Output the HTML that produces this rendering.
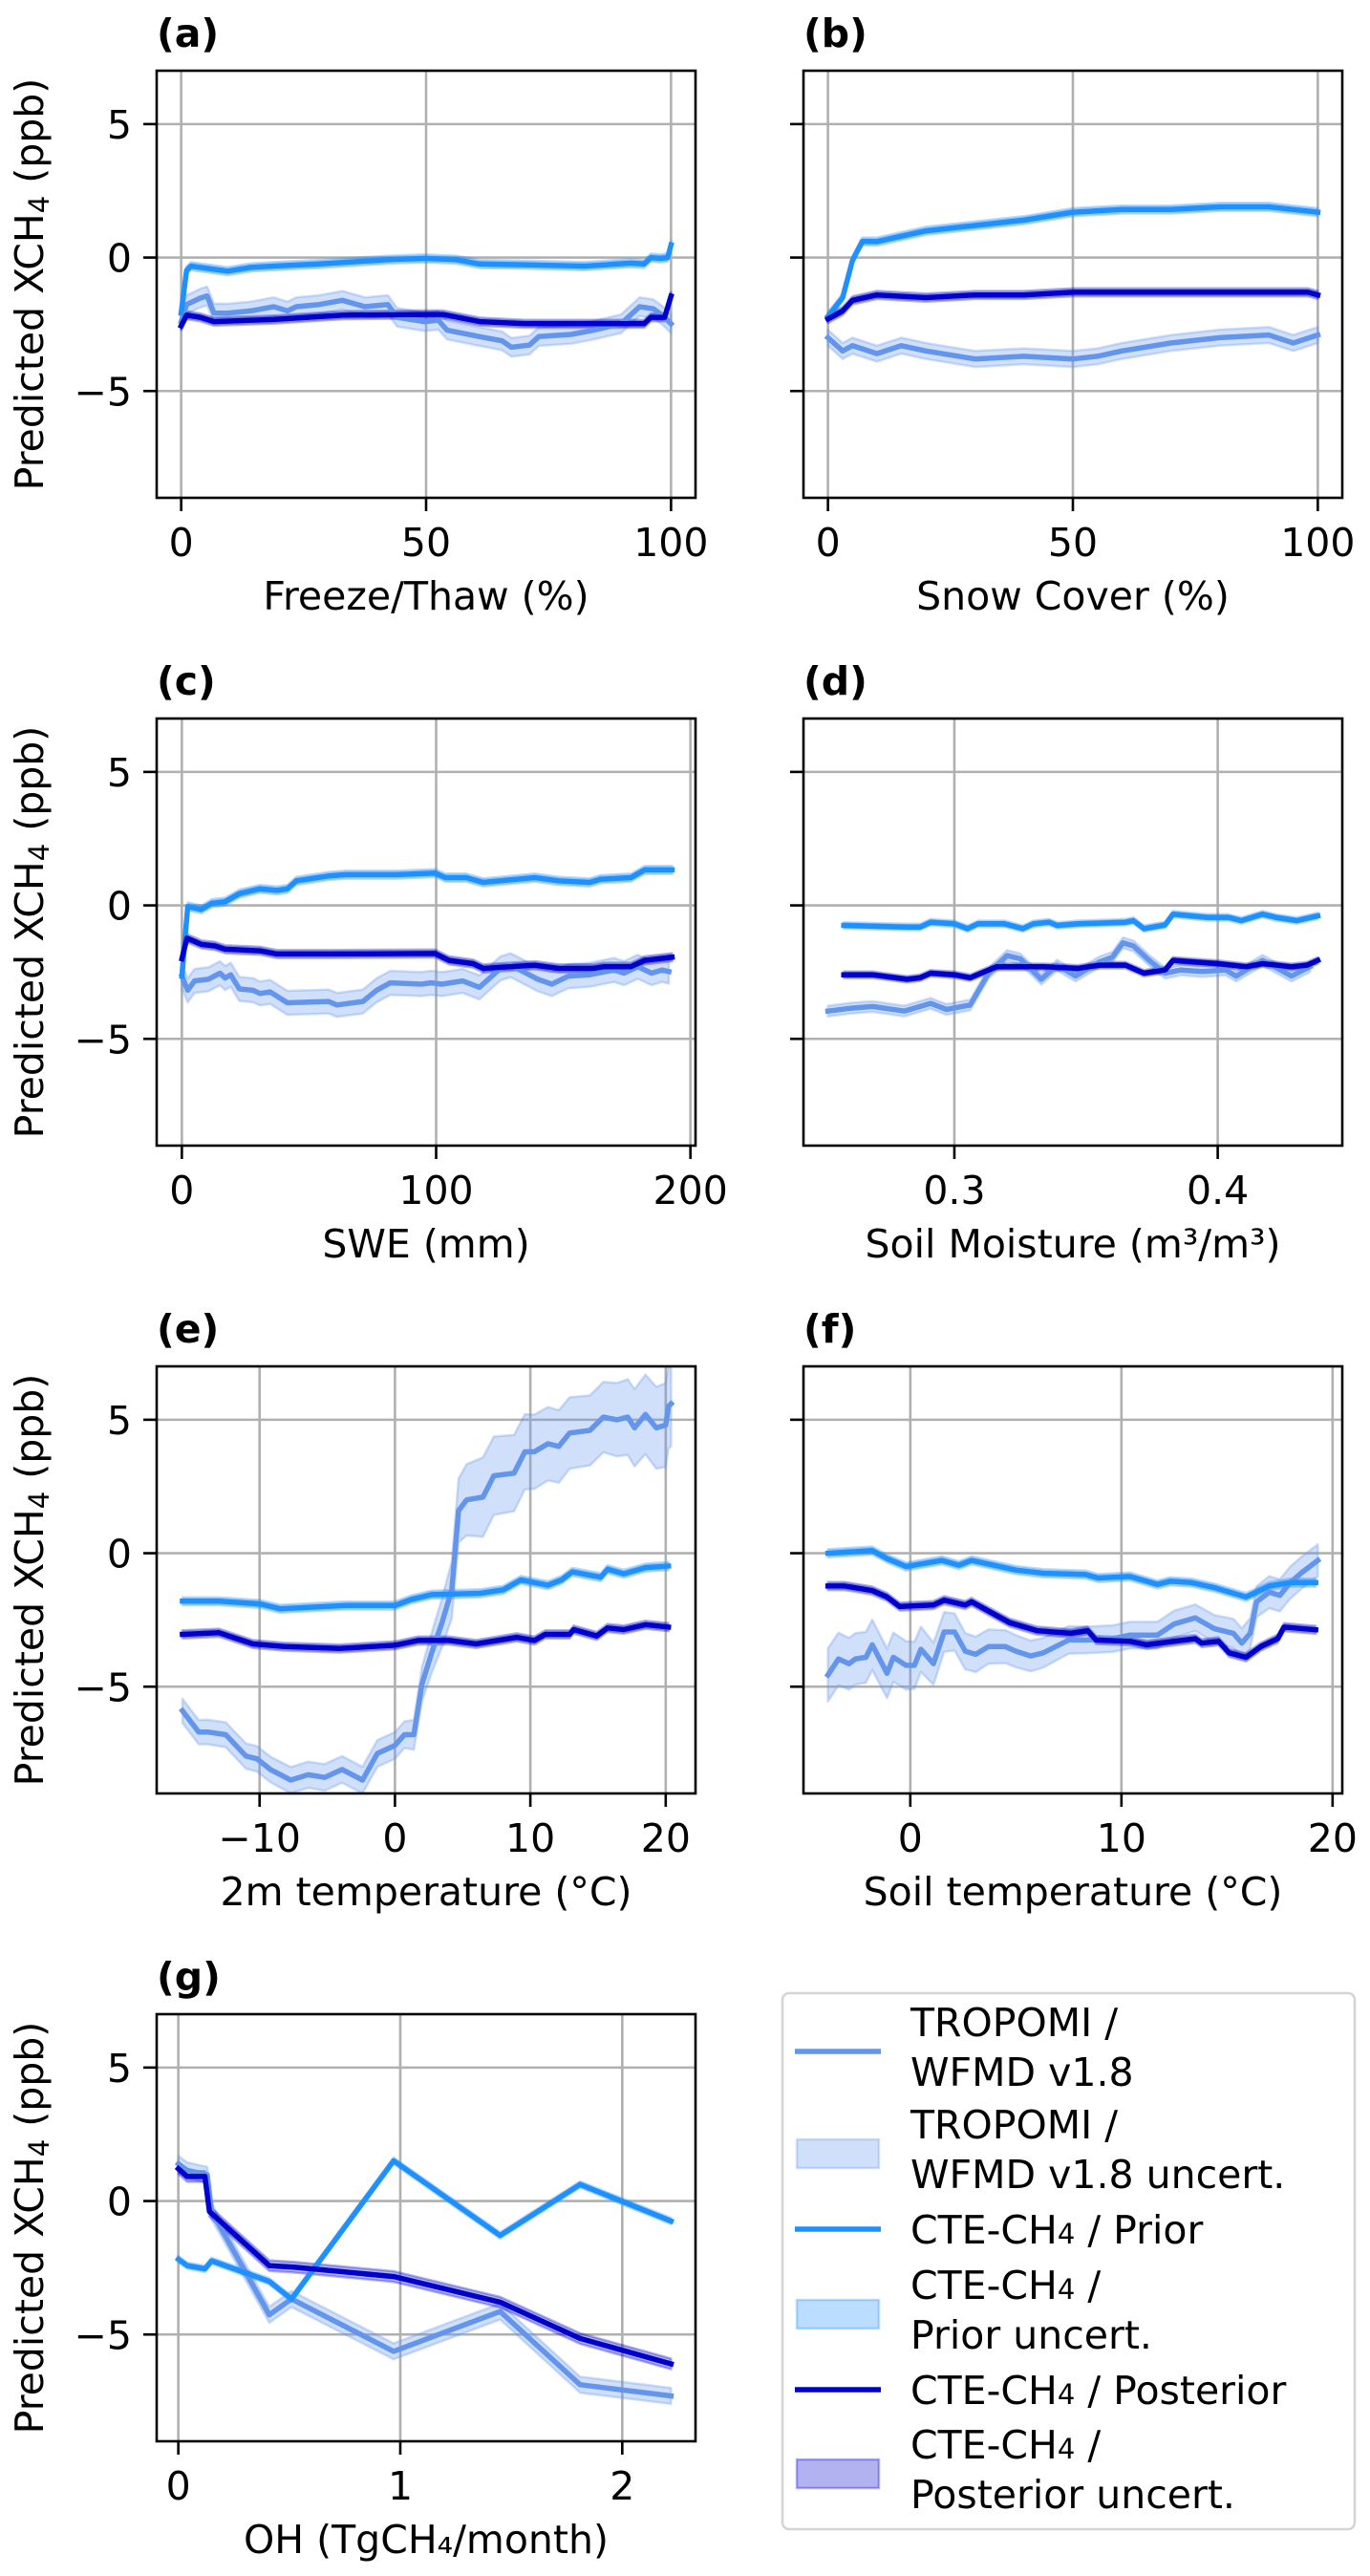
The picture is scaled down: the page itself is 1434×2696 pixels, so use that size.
<!DOCTYPE html>
<html><head><meta charset="utf-8">
<style>
html,body{margin:0;padding:0;background:#fff;}
svg{display:block;font-family:"DejaVu Sans","Liberation Sans",sans-serif;}
</style></head>
<body>
<svg id="fig" width="1434" height="2696" viewBox="0 0 1434 2696" xmlns="http://www.w3.org/2000/svg">
  <rect x="0" y="0" width="1434" height="2696" fill="#fff"/>
</svg>
<script>
// ---------- DATA ----------
// (a) Freeze/Thaw
const aTropX=[0,1.1,3.9,5.3,6.7,9.5,14.2,18.9,21.7,23.5,28.2,32.9,37.5,42.2,44.1,49.7,52.5,54.3,60.9,65.5,67.4,71.1,73,79.6,84.2,89.8,93.6,96.4,98.2,100];
const aTropY=[-2.4,-1.76,-1.52,-1.44,-2.08,-2.08,-2.0,-1.84,-2.0,-1.84,-1.76,-1.6,-1.84,-1.76,-2.24,-2.4,-2.35,-2.72,-2.96,-3.12,-3.36,-3.28,-2.96,-2.88,-2.72,-2.48,-1.84,-1.92,-2.16,-2.48];
const aPriorX=[0,1.1,2,3.9,9.5,14.2,18.9,28.2,42.2,49.7,56.2,60.9,70.2,82.4,91.7,94.5,95.9,97.8,99.3,100];
const aPriorY=[-2.08,-0.48,-0.32,-0.37,-0.51,-0.37,-0.32,-0.24,-0.08,-0.03,-0.08,-0.24,-0.27,-0.32,-0.21,-0.24,0,-0.03,0,0.48];
const aPostX=[0,1.1,3.9,6.7,18.9,32.9,49.7,53.4,60.9,70.2,79.6,94.5,95.9,98.7,100];
const aPostY=[-2.56,-2.16,-2.24,-2.4,-2.32,-2.16,-2.13,-2.13,-2.4,-2.48,-2.48,-2.48,-2.24,-2.24,-1.44];
// (b) Snow Cover
const bTropX=[0,3,5,10,15,20,30,40,50,55,60,70,80,90,95,100];
const bTropY=[-3.0,-3.5,-3.3,-3.6,-3.3,-3.5,-3.8,-3.7,-3.8,-3.7,-3.5,-3.2,-3.0,-2.9,-3.2,-2.9];
const bPriorX=[0,3,5,7,10,15,20,30,40,50,60,70,80,90,95,100];
const bPriorY=[-2.2,-1.5,-0.1,0.6,0.6,0.8,1.0,1.2,1.4,1.7,1.8,1.8,1.9,1.9,1.8,1.7];
const bPostX=[0,3,5,10,20,30,40,50,60,70,80,90,98,100];
const bPostY=[-2.3,-2.0,-1.6,-1.4,-1.5,-1.4,-1.4,-1.3,-1.3,-1.3,-1.3,-1.3,-1.3,-1.4];
// (c) SWE
const cTropX=[0,2.3,5,10.4,15,17,19.2,22.6,28,30.7,34.7,41.5,57.7,61,71.2,76.6,82,94.2,98,102.3,110.4,117,125.3,129.3,140,145.5,152,160.4,169.9,173.9,179.3,184.7,188.8,191.5];
const cTropY=[-2.65,-3.18,-2.83,-2.77,-2.54,-2.72,-2.6,-3.13,-3.18,-3.3,-3.24,-3.65,-3.6,-3.73,-3.6,-3.18,-2.9,-2.95,-2.9,-2.95,-2.83,-3.07,-2.36,-2.24,-2.77,-2.95,-2.65,-2.6,-2.42,-2.54,-2.3,-2.54,-2.42,-2.48];
const cPriorX=[0,2.3,7.7,11.8,17,22.6,30.7,37.4,41.5,45,57.7,64.5,84.7,99.6,103.6,111.8,118.5,138.8,148.2,160.4,164.5,176.6,182,192.8];
const cPriorY=[-2.65,-0.04,-0.15,0.08,0.14,0.44,0.62,0.56,0.62,0.92,1.1,1.15,1.15,1.21,1.04,1.04,0.86,1.04,0.92,0.86,0.98,1.04,1.33,1.33];
const cPostX=[0,2,7.7,13,17,30.7,37.4,57.7,99.6,105,114.5,118.5,138.8,148.2,161.8,165.8,176.6,182,192.8];
const cPostY=[-2.0,-1.23,-1.46,-1.52,-1.64,-1.7,-1.82,-1.82,-1.8,-2.06,-2.18,-2.36,-2.24,-2.36,-2.36,-2.3,-2.3,-2.06,-1.94];
// (d) Soil Moisture
const dTropX=[0.252,0.261,0.269,0.281,0.291,0.297,0.306,0.313,0.320,0.325,0.333,0.339,0.346,0.355,0.360,0.364,0.368,0.374,0.380,0.386,0.394,0.403,0.407,0.417,0.428,0.435];
const dTropY=[-3.96,-3.85,-3.79,-3.96,-3.67,-3.9,-3.73,-2.54,-1.88,-2.0,-2.77,-2.24,-2.65,-2.12,-1.94,-1.4,-1.52,-2.06,-2.54,-2.42,-2.48,-2.42,-2.65,-2.06,-2.65,-2.3];
const dPriorX=[0.258,0.282,0.287,0.291,0.300,0.305,0.309,0.319,0.326,0.330,0.336,0.339,0.347,0.365,0.368,0.372,0.380,0.383,0.396,0.404,0.409,0.417,0.422,0.430,0.438];
const dPriorY=[-0.75,-0.81,-0.81,-0.63,-0.69,-0.87,-0.69,-0.69,-0.87,-0.69,-0.63,-0.75,-0.69,-0.63,-0.57,-0.87,-0.73,-0.33,-0.45,-0.45,-0.57,-0.33,-0.45,-0.57,-0.39];
const dPostX=[0.258,0.269,0.282,0.287,0.291,0.300,0.306,0.316,0.326,0.334,0.347,0.355,0.365,0.372,0.380,0.383,0.391,0.400,0.411,0.417,0.428,0.434,0.438];
const dPostY=[-2.6,-2.6,-2.77,-2.71,-2.54,-2.6,-2.71,-2.3,-2.3,-2.3,-2.36,-2.24,-2.24,-2.54,-2.42,-2.06,-2.12,-2.18,-2.3,-2.18,-2.3,-2.24,-2.06];
// (e) 2m temperature
const eTropX=[-15.7,-14.5,-13.8,-12.5,-11,-10.2,-9.2,-7.7,-6.4,-5.2,-3.9,-2.4,-1.3,0,0.7,1.4,2,2.7,3.5,4.2,4.7,5.3,6.5,7.3,8.8,9.6,10.3,11.3,12.1,12.9,14.4,15.4,16.4,17.2,17.7,18.5,19.3,20,20.2,20.4];
const eTropY=[-5.9,-6.7,-6.7,-6.8,-7.6,-7.7,-8.1,-8.5,-8.3,-8.4,-8.1,-8.5,-7.5,-7.2,-6.8,-6.8,-4.9,-3.75,-2.56,-1.37,1.6,2.0,2.1,2.9,3.0,3.8,3.8,4.1,4.0,4.5,4.6,5.1,5.0,5.1,4.7,5.2,4.7,4.8,5.5,5.6];
const eTropUncX=[-16,-5,1,3,6,10,15,20.5];
const eTropUncV=[0.45,0.5,0.5,0.8,1.5,1.4,1.3,1.6];
const ePriorX=[-15.7,-13,-10,-8.5,-3.6,0,1.2,2.7,6.3,8,9.3,11.3,12.3,13.1,15.2,15.7,16.9,18.5,20.2];
const ePriorY=[-1.8,-1.8,-1.9,-2.08,-1.96,-1.96,-1.73,-1.55,-1.5,-1.37,-1.0,-1.2,-1.0,-0.7,-0.9,-0.6,-0.77,-0.54,-0.48];
const ePostX=[-15.7,-13,-10.5,-8.2,-4.1,0,1.7,4,6,9,10.3,11.1,12.9,13.2,14.9,15.7,16.9,18.5,20.2];
const ePostY=[-3.04,-2.98,-3.4,-3.5,-3.57,-3.45,-3.27,-3.27,-3.4,-3.15,-3.27,-3.04,-3.04,-2.86,-3.1,-2.8,-2.86,-2.68,-2.77];
// (f) Soil temperature
const fTropX=[-3.9,-3.4,-2.9,-2.6,-2.1,-1.8,-1.1,-0.8,-0.2,0.2,0.5,1.1,1.6,2.1,2.6,3.1,3.7,4.5,5,5.7,6.3,7.5,8.4,9.6,10.4,11.7,12.5,13.5,14.4,15.3,15.7,16.1,16.4,17,17.5,18,18.5,19.3];
const fTropY=[-4.56,-3.96,-4.14,-3.96,-3.9,-3.43,-4.5,-3.9,-4.2,-4.2,-3.6,-4.14,-2.95,-2.95,-3.67,-3.79,-3.5,-3.5,-3.67,-3.85,-3.73,-3.25,-3.25,-3.2,-3.07,-3.07,-2.65,-2.42,-2.83,-3.0,-3.37,-3.0,-1.82,-1.46,-1.58,-1.1,-0.75,-0.27];
const fTropUncX=[-4,0,2,8,14,17,19.3];
const fTropUncV=[1.0,0.9,0.7,0.5,0.5,0.6,0.6];
const fPriorX=[-3.9,-1.8,-1.1,-0.2,1.5,2.3,2.9,5,6.3,8.3,8.9,10.4,11.7,12.3,13.3,14.4,15.9,17,18,19.2];
const fPriorY=[0,0.1,-0.2,-0.5,-0.27,-0.45,-0.27,-0.63,-0.75,-0.8,-0.93,-0.87,-1.17,-1.05,-1.1,-1.29,-1.64,-1.23,-1.1,-1.1];
const fPostX=[-3.9,-3.1,-1.8,-1.1,-0.5,1.1,1.6,2.6,2.9,4.7,6,7.6,8.4,8.8,10.4,11.2,13.5,13.8,14.6,15.1,15.9,16.6,17.4,17.7,19.2];
const fPostY=[-1.23,-1.23,-1.4,-1.64,-2.0,-1.94,-1.76,-1.94,-1.82,-2.6,-2.9,-3.0,-2.9,-3.25,-3.3,-3.43,-3.2,-3.37,-3.3,-3.73,-3.9,-3.5,-3.2,-2.77,-2.87];
// (g) OH
const gTropX=[0,0.04,0.13,0.15,0.41,0.51,0.97,1.45,1.81,2.22];
const gTropY=[1.39,1.15,0.98,-0.39,-4.26,-3.67,-5.63,-4.14,-6.88,-7.3];
const gPriorX=[0,0.04,0.12,0.15,0.41,0.51,0.97,1.45,1.81,2.22];
const gPriorY=[-2.18,-2.42,-2.54,-2.24,-3.01,-3.67,1.51,-1.29,0.62,-0.75];
const gPostX=[0,0.04,0.12,0.14,0.41,0.52,0.97,1.45,1.81,2.22];
const gPostY=[1.21,0.92,0.92,-0.39,-2.42,-2.48,-2.83,-3.79,-5.15,-6.1];
// uncertainty half-widths [TROPOMI, Prior, Posterior]
const uncA=[0.35,0.15,0.15], uncB=[0.3,0.15,0.15], uncC=[0.45,0.15,0.15], uncD=[0.2,0.12,0.12], uncE=[0,0.15,0.15], uncF=[0,0.15,0.15], uncG=[0.3,0.12,0.2];
// tick labels
const ticksAB=[0,50,100], ticksC=[0,100,200], ticksD=[0.3,0.4], ticksE=[-10,0,10,20], ticksF=[0,10,20], ticksG=[0,1,2];
const yTicks=[-5,0,5];

// ---------- LAYOUT ----------
const NS="http://www.w3.org/2000/svg";
const svg=document.getElementById('fig');
const W=564,H=447;
const COLS=[164,841], ROWS=[74,752,1430,2108];
const YLIM=[-9,7];
const FS=41, FSUB=29;
const C_TROP="#6495ED", C_PRIOR="#1E90FF", C_POST="#0000CD";
function mk(tag,attrs,parent){const e=document.createElementNS(NS,tag);for(const k in attrs)e.setAttribute(k,attrs[k]);(parent||svg).appendChild(e);return e;}
function fmt(v){const s=(Math.round(v*10)/10).toString();return v<0?'\u2212'+s.slice(1):s;}
function interp(xs,vs,x){if(x<=xs[0])return vs[0];for(let i=1;i<xs.length;i++){if(x<=xs[i]){const t=(x-xs[i-1])/(xs[i]-xs[i-1]);return vs[i-1]+t*(vs[i]-vs[i-1]);}}return vs[vs.length-1];}

const panels=[
 {id:'a',col:0,row:0,xlim:[-5,105],ticks:ticksAB,xlabel:'Freeze/Thaw (%)',ylab:true,tX:aTropX,tY:aTropY,pX:aPriorX,pY:aPriorY,qX:aPostX,qY:aPostY,unc:uncA},
 {id:'b',col:1,row:0,xlim:[-5,105],ticks:ticksAB,xlabel:'Snow Cover (%)',ylab:false,tX:bTropX,tY:bTropY,pX:bPriorX,pY:bPriorY,qX:bPostX,qY:bPostY,unc:uncB},
 {id:'c',col:0,row:1,xlim:[-9.9,202],ticks:ticksC,xlabel:'SWE (mm)',ylab:true,tX:cTropX,tY:cTropY,pX:cPriorX,pY:cPriorY,qX:cPostX,qY:cPostY,unc:uncC},
 {id:'d',col:1,row:1,xlim:[0.2427,0.4473],ticks:ticksD,xlabel:'Soil Moisture (m\u00b3/m\u00b3)',ylab:false,tX:dTropX,tY:dTropY,pX:dPriorX,pY:dPriorY,qX:dPostX,qY:dPostY,unc:uncD},
 {id:'e',col:0,row:2,xlim:[-17.6,22.2],ticks:ticksE,xlabel:'2m temperature (\u00b0C)',ylab:true,tX:eTropX,tY:eTropY,tUX:eTropUncX,tUV:eTropUncV,pX:ePriorX,pY:ePriorY,qX:ePostX,qY:ePostY,unc:uncE},
 {id:'f',col:1,row:2,xlim:[-5.06,20.46],ticks:ticksF,xlabel:'Soil temperature (\u00b0C)',ylab:false,tX:fTropX,tY:fTropY,tUX:fTropUncX,tUV:fTropUncV,pX:fPriorX,pY:fPriorY,qX:fPostX,qY:fPostY,unc:uncF},
 {id:'g',col:0,row:3,xlim:[-0.0975,2.33],ticks:ticksG,xlabel:'OH (TgCH\u2084/month)',ylab:true,tX:gTropX,tY:gTropY,pX:gPriorX,pY:gPriorY,qX:gPostX,qY:gPostY,unc:uncG}
];

panels.forEach(p=>{
  const L=COLS[p.col], T=ROWS[p.row];
  const sx=v=>L+(v-p.xlim[0])/(p.xlim[1]-p.xlim[0])*W;
  const sy=v=>T+(YLIM[1]-v)/(YLIM[1]-YLIM[0])*H;
  const g=mk('g',{});
  
  
  const cp=mk('clipPath',{id:'clip-'+p.id},g);
  mk('rect',{x:L,y:T,width:W,height:H},cp);
  // grid
  const grid=mk('g',{},g);
  
  
  p.ticks.forEach(t=>mk('line',{x1:sx(t),x2:sx(t),y1:T,y2:T+H,stroke:'#b0b0b0','stroke-width':2.6},grid));
  yTicks.forEach(t=>mk('line',{x1:L,x2:L+W,y1:sy(t),y2:sy(t),stroke:'#b0b0b0','stroke-width':2.6},grid));
  // series
  const plot=mk('g',{'clip-path':'url(#clip-'+p.id+')'},g);
  const series=[
    {name:'tropomi',xs:p.tX,ys:p.tY,c:C_TROP,u:p.unc[0],ux:p.tUX,uv:p.tUV},
    {name:'prior',xs:p.pX,ys:p.pY,c:C_PRIOR,u:p.unc[1]},
    {name:'posterior',xs:p.qX,ys:p.qY,c:C_POST,u:p.unc[2]}
  ];
  series.forEach(s=>{
    const hw=x=>s.ux?interp(s.ux,s.uv,x):s.u;
    let up=s.xs.map((x,i)=>sx(x).toFixed(1)+','+sy(s.ys[i]+hw(x)).toFixed(1));
    let lo=s.xs.map((x,i)=>sx(x).toFixed(1)+','+sy(s.ys[i]-hw(x)).toFixed(1)).reverse();
    const band=mk('polygon',{points:up.concat(lo).join(' '),fill:s.c,'fill-opacity':0.3,stroke:s.c,'stroke-opacity':0.3,'stroke-width':2.5,'stroke-linejoin':'round'},plot);
    
    
  });
  series.forEach(s=>{
    const pts=s.xs.map((x,i)=>sx(x).toFixed(1)+','+sy(s.ys[i]).toFixed(1)).join(' ');
    const ln=mk('polyline',{points:pts,fill:'none',stroke:s.c,'stroke-width':5.5,'stroke-linejoin':'round','stroke-linecap':'square'},plot);
    
    
  });
  // frame
  const fr=mk('rect',{x:L,y:T,width:W,height:H,fill:'none',stroke:'#000','stroke-width':2.6},g);
  
  
  // x ticks
  p.ticks.forEach(t=>{
    mk('line',{x1:sx(t),x2:sx(t),y1:T+H,y2:T+H+14,stroke:'#000','stroke-width':2.6},g);
    const tx=mk('text',{x:sx(t),y:T+H+61,'font-size':FS,'text-anchor':'middle',fill:'#000'},g);
    tx.textContent=fmt(t);
    
    
  });
  // y ticks
  yTicks.forEach(t=>{
    mk('line',{x1:L-14,x2:L,y1:sy(t),y2:sy(t),stroke:'#000','stroke-width':2.6},g);
    if(p.ylab){
      const ty=mk('text',{x:L-26,y:sy(t)+15,'font-size':FS,'text-anchor':'end',fill:'#000'},g);
      ty.textContent=fmt(t);
      
      
    }
  });
  // x label
  const xl=mk('text',{x:L+W/2,y:T+H+117,'font-size':FS,'text-anchor':'middle',fill:'#000'},g);
  xl.textContent=p.xlabel;
  
  
  // y label
  if(p.ylab){
    const cy=T+H/2;
    const yl=mk('text',{x:0,y:0,'font-size':FS,'text-anchor':'middle',fill:'#000',transform:'translate(45,'+cy+') rotate(-90)'},g);
    
    
    const t1=mk('tspan',{},yl);t1.textContent='Predicted XCH';
    const t2=mk('tspan',{'font-size':FSUB,dy:6},yl);t2.textContent='4';
    const t3=mk('tspan',{dy:-6},yl);t3.textContent=' (ppb)';
  }
  // panel label
  const pl=mk('text',{x:L,y:T-25,'font-size':FS,'font-weight':'bold',fill:'#000'},g);
  pl.textContent='('+p.id+')';
  
  
});

// ---------- LEGEND ----------
const leg=mk('g',{});


mk('rect',{x:819,y:2086,width:599,height:561,rx:7,ry:7,fill:'#fff','fill-opacity':0.8,stroke:'#d5d5d5','stroke-width':2.6},leg);
const legendItems=[
 {cy:2147,type:'line',c:C_TROP,lines:[['TROPOMI /'],['WFMD v1.8']]},
 {cy:2254,type:'box',c:C_TROP,lines:[['TROPOMI /'],['WFMD v1.8 uncert.']]},
 {cy:2333,type:'line',c:C_PRIOR,lines:[['CTE-CH','4',' / Prior']]},
 {cy:2422,type:'box',c:C_PRIOR,lines:[['CTE-CH','4',' /'],['Prior uncert.']]},
 {cy:2501,type:'line',c:C_POST,lines:[['CTE-CH','4',' / Posterior']]},
 {cy:2589,type:'box',c:C_POST,lines:[['CTE-CH','4',' /'],['Posterior uncert.']]}
];
legendItems.forEach((it,i)=>{
  const eg=mk('g',{},leg);
  
  
  if(it.type==='line'){
    mk('line',{x1:832,x2:922,y1:it.cy,y2:it.cy,stroke:it.c,'stroke-width':5.5},eg);
  }else{
    mk('rect',{x:834,y:it.cy-15,width:86,height:30,fill:it.c,'fill-opacity':0.3,stroke:it.c,'stroke-opacity':0.3,'stroke-width':2.5},eg);
  }
  const base = it.lines.length===2 ? [it.cy-16,it.cy+36] : [it.cy+15];
  it.lines.forEach((ln,j)=>{
    const t=mk('text',{x:953,y:base[j],'font-size':FS,fill:'#000'},eg);
    const a=mk('tspan',{},t);a.textContent=ln[0];
    if(ln.length>1){
      const b=mk('tspan',{'font-size':FSUB},t);b.textContent=ln[1];
      const c=mk('tspan',{},t);c.textContent=ln[2];
    }
  });
});
</script>
</body></html>
